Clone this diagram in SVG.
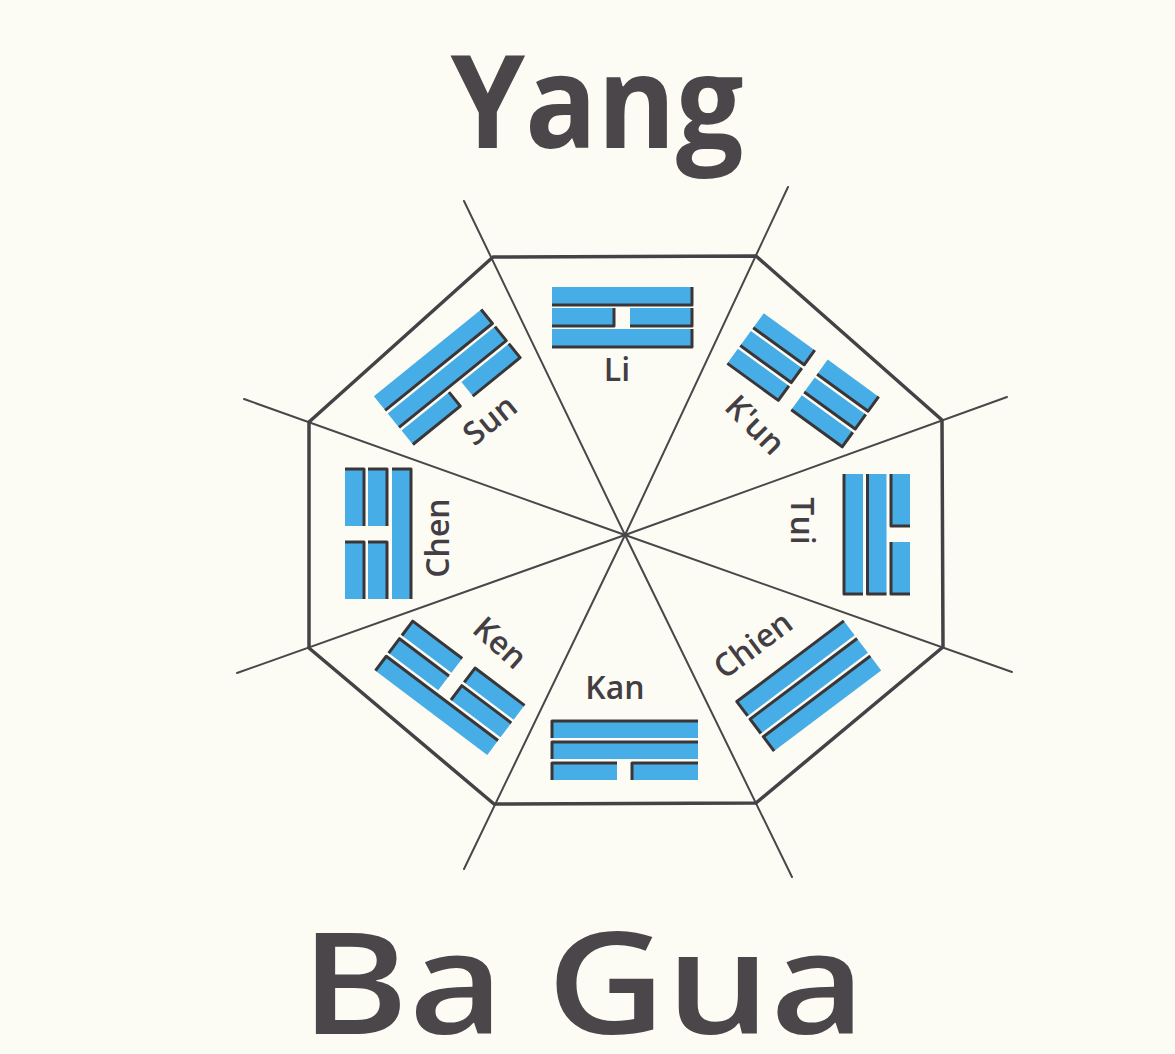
<svg xmlns="http://www.w3.org/2000/svg" width="1175" height="1054" viewBox="0 0 1175 1054">
<style>
.title{font-family:"Open Sans","Liberation Sans",sans-serif;fill:#4a464a}
.lbl{font-family:"Open Sans","Liberation Sans",sans-serif;font-weight:600;font-size:32px;fill:#433e43;text-anchor:middle}
.oct{fill:none;stroke:#454145;stroke-width:3.5;stroke-linejoin:round}
.ray{stroke:#4a464a;stroke-width:2;stroke-linecap:round}
.b{fill:#47ade6}
.e{fill:none;stroke:#3a3638;stroke-width:3;stroke-linejoin:round}
</style>
<rect width="1175" height="1054" fill="#fcfcf5"/>
<text class="title" x="597" y="148" font-size="130" font-weight="700" text-anchor="middle" textLength="293" lengthAdjust="spacingAndGlyphs">Yang</text>
<text class="title" x="583" y="1034" font-size="142" font-weight="600" text-anchor="middle" textLength="565" lengthAdjust="spacingAndGlyphs">Ba Gua</text>
<g id="connectors">
<line class="ray" x1="625" y1="535" x2="464" y2="201"/>
<line class="ray" x1="625" y1="535" x2="788" y2="187"/>
<line class="ray" x1="625" y1="535" x2="1007" y2="397"/>
<line class="ray" x1="625" y1="535" x2="1012" y2="672"/>
<line class="ray" x1="625" y1="535" x2="792" y2="877"/>
<line class="ray" x1="625" y1="535" x2="464" y2="869"/>
<line class="ray" x1="625" y1="535" x2="237" y2="673"/>
<line class="ray" x1="625" y1="535" x2="244" y2="399"/>
<polygon class="oct" points="493,257 756,256 942,420 943,647 756,803 494,804 309,648 309,422"/>
</g>
<g id="li" transform="translate(622,317)">
<rect class="b" x="-70" y="-30" width="140" height="18"/><path class="e" d="M-70,-12H70V-30"/>
<rect class="b" x="-70" y="-9" width="62" height="18"/><path class="e" d="M-70,9H-8V-9"/>
<rect class="b" x="8" y="-9" width="62" height="18"/><path class="e" d="M8,9H70V-9"/>
<rect class="b" x="-70" y="12" width="140" height="18"/><path class="e" d="M-70,30H70V12"/>
</g>
<g id="kun" transform="translate(803,380) rotate(36)">
<rect class="b" x="-71" y="-31" width="63" height="18"/><path class="e" d="M-71,-13H-8V-31"/>
<rect class="b" x="8" y="-31" width="63" height="18"/><path class="e" d="M8,-13H71V-31"/>
<rect class="b" x="-71" y="-9" width="63" height="18"/><path class="e" d="M-71,9H-8V-9"/>
<rect class="b" x="8" y="-9" width="63" height="18"/><path class="e" d="M8,9H71V-9"/>
<rect class="b" x="-71" y="13" width="63" height="18"/><path class="e" d="M-71,31H-8V13"/>
<rect class="b" x="8" y="13" width="63" height="18"/><path class="e" d="M8,31H71V13"/>
</g>
<g id="tui" transform="translate(877,534) rotate(90)">
<rect class="b" x="-60" y="-33" width="52" height="19"/><path class="e" d="M-60,-14H-8V-33"/>
<rect class="b" x="8" y="-33" width="52" height="19"/><path class="e" d="M8,-14H60V-33"/>
<rect class="b" x="-60" y="-9.5" width="120" height="19"/><path class="e" d="M-60,9.5H60V-9.5"/>
<rect class="b" x="-60" y="14" width="120" height="19"/><path class="e" d="M-60,33H60V14"/>
</g>
<g id="chien" transform="translate(809,686) rotate(143)">
<rect class="b" x="-67" y="-31" width="134" height="18"/><path class="e" d="M-67,-13H67V-31"/>
<rect class="b" x="-67" y="-9" width="134" height="18"/><path class="e" d="M-67,9H67V-9"/>
<rect class="b" x="-67" y="13" width="134" height="18"/><path class="e" d="M-67,31H67V13"/>
</g>
<g id="kan" transform="translate(625,750) rotate(180)">
<rect class="b" x="-73" y="-30" width="66" height="17"/><path class="e" d="M-73,-13H-7V-30"/>
<rect class="b" x="8" y="-30" width="65" height="17"/><path class="e" d="M8,-13H73V-30"/>
<rect class="b" x="-73" y="-9" width="146" height="17"/><path class="e" d="M-73,8H73V-9"/>
<rect class="b" x="-73" y="12" width="146" height="17"/><path class="e" d="M-73,29H73V12"/>
</g>
<g id="ken" transform="translate(450,688) rotate(217)">
<rect class="b" x="-70" y="-31" width="140" height="18"/><path class="e" d="M-70,-13H70V-31"/>
<rect class="b" x="-70" y="-9" width="62" height="18"/><path class="e" d="M-70,9H-8V-9"/>
<rect class="b" x="8" y="-9" width="62" height="18"/><path class="e" d="M8,9H70V-9"/>
<rect class="b" x="-70" y="13" width="62" height="18"/><path class="e" d="M-70,31H-8V13"/>
<rect class="b" x="8" y="13" width="62" height="18"/><path class="e" d="M8,31H70V13"/>
</g>
<g id="chen" transform="translate(378,534) rotate(270)">
<rect class="b" x="-65" y="-33" width="57" height="19"/><path class="e" d="M-65,-14H-8V-33"/>
<rect class="b" x="8" y="-33" width="57" height="19"/><path class="e" d="M8,-14H65V-33"/>
<rect class="b" x="-65" y="-10" width="57" height="19"/><path class="e" d="M-65,9H-8V-10"/>
<rect class="b" x="8" y="-10" width="57" height="19"/><path class="e" d="M8,9H65V-10"/>
<rect class="b" x="-65" y="14" width="130" height="19"/><path class="e" d="M-65,33H65V14"/>
</g>
<g id="sun" transform="translate(447,377) rotate(-39)">
<rect class="b" x="-69" y="-31" width="138" height="18"/><path class="e" d="M-69,-13H69V-31"/>
<rect class="b" x="-69" y="-9" width="138" height="18"/><path class="e" d="M-69,9H69V-9"/>
<rect class="b" x="-69" y="13" width="61" height="18"/><path class="e" d="M-69,31H-8V13"/>
<rect class="b" x="8" y="13" width="61" height="18"/><path class="e" d="M8,31H69V13"/>
</g>
<g id="labels">
<text class="lbl" transform="translate(617,370)" y="11">Li</text>
<text class="lbl" transform="translate(755,425) rotate(45)" y="11">K'un</text>
<text class="lbl" transform="translate(802,521) rotate(90)" y="11">Tui</text>
<text class="lbl" transform="translate(753,645) rotate(-37)" y="11">Chien</text>
<text class="lbl" transform="translate(615,688)" y="11">Kan</text>
<text class="lbl" transform="translate(500,643) rotate(42)" y="11">Ken</text>
<text class="lbl" transform="translate(438,538) rotate(-90)" y="11">Chen</text>
<text class="lbl" transform="translate(490,420) rotate(-39)" y="11">Sun</text>
</g>
</svg>
